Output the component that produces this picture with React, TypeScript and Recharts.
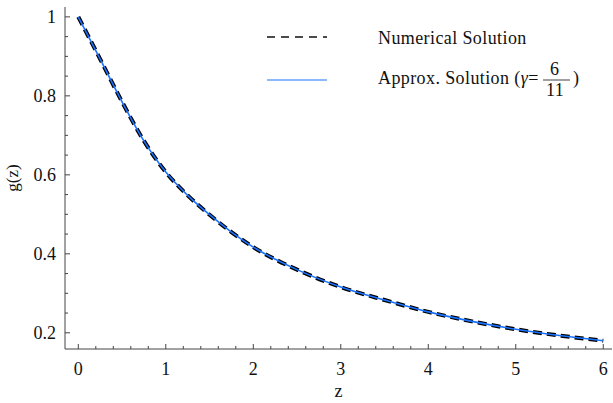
import React from 'react';
import { LineChart, Line, XAxis, YAxis } from 'recharts';

// z grid and the two solutions
const zValues = [0, 0.25, 0.5, 0.75, 1, 1.25, 1.5, 1.75, 2, 2.5, 3, 3.5, 4, 4.5, 5, 5.5, 6];
const numerical = [1.0, 0.893, 0.785, 0.686, 0.607, 0.548, 0.499, 0.455, 0.417, 0.36, 0.316, 0.283, 0.253, 0.229, 0.209, 0.193, 0.18];
const approx = [1.0, 0.893, 0.785, 0.686, 0.607, 0.548, 0.499, 0.455, 0.417, 0.36, 0.316, 0.283, 0.253, 0.229, 0.209, 0.193, 0.18];

const xTicks = [0, 0.2, 0.4, 0.6, 0.8, 1, 1.2, 1.4, 1.6, 1.8, 2, 2.2, 2.4, 2.6, 2.8, 3, 3.2, 3.4, 3.6, 3.8, 4, 4.2, 4.4, 4.6, 4.8, 5, 5.2, 5.4, 5.6, 5.8, 6];
const xLabels = [0, 1, 2, 3, 4, 5, 6];
const yTicks = [0.2, 0.25, 0.3, 0.35, 0.4, 0.45, 0.5, 0.55, 0.6, 0.65, 0.7, 0.75, 0.8, 0.85, 0.9, 0.95, 1];
const yLabels = [0.2, 0.4, 0.6, 0.8, 1];

const data = zValues.map((z, i) => ({ z, num: numerical[i], app: approx[i] }));

const AXIS = '#444';
const BLUE = '#1a72ff';
const FONT = '"Liberation Serif", "Times New Roman", serif';

const isMajor = (v: number, list: number[]) => list.some((l) => Math.abs(l - v) < 1e-6);

const BottomTick = (props: any) => {
  const { x, y, payload } = props;
  const major = isMajor(payload.value, xLabels);
  return (
    <g>
      <line x1={x} x2={x} y1={y} y2={y - (major ? 5 : 3)} stroke={AXIS} />
      {major && (
        <text x={x} y={y + 26} textAnchor="middle" fontSize={18} fontFamily={FONT} fill="#111">
          {payload.value}
        </text>
      )}
    </g>
  );
};

const TopTick = (props: any) => {
  const { x, y, payload } = props;
  const major = isMajor(payload.value, xLabels);
  return <line x1={x} x2={x} y1={y} y2={y + (major ? 5 : 3)} stroke={AXIS} />;
};

const LeftTick = (props: any) => {
  const { x, y, payload } = props;
  const major = isMajor(payload.value, yLabels);
  return (
    <g>
      <line x1={x} x2={x + (major ? 5 : 3)} y1={y} y2={y} stroke={AXIS} />
      {major && (
        <text x={x - 9} y={y + 6} textAnchor="end" fontSize={18} fontFamily={FONT} fill="#111">
          {payload.value}
        </text>
      )}
    </g>
  );
};

const RightTick = (props: any) => {
  const { x, y, payload } = props;
  const major = isMajor(payload.value, yLabels);
  return <line x1={x} x2={x - (major ? 5 : 3)} y1={y} y2={y} stroke={AXIS} />;
};

const textStyle = { fontSize: 18, fontFamily: FONT, fill: '#111', letterSpacing: 0.4 };

const LegendBox = () => (
  <svg width={363} height={100} style={{ display: 'block' }}>
    <line x1={17} x2={77} y1={37} y2={37} stroke="#111" strokeWidth={1.3} strokeDasharray="8 6" />
    <text x={128} y={44} style={textStyle}>Numerical Solution</text>
    <line x1={17} x2={77} y1={80} y2={80} stroke={BLUE} strokeWidth={1.1} />
    <text x={128} y={84} style={textStyle}>
      Approx. Solution (<tspan fontStyle="italic">γ</tspan>=
    </text>
    <text x={300} y={75} style={textStyle}>6</text>
    <line x1={293} x2={320} y1={80} y2={80} stroke="#111" strokeWidth={0.8} />
    <text x={296} y={96} style={textStyle}>11</text>
    <text x={323} y={84} style={textStyle}>)</text>
  </svg>
);

export default function App() {
  return (
    <div style={{ position: 'absolute', left: 0, top: 0, width: 613, height: 403, background: '#fff' }}>
      <LineChart width={613} height={403} data={data} margin={{ top: 7, right: 1, left: 0, bottom: 0 }}>
        <XAxis
          dataKey="z"
          type="number"
          domain={[-0.152, 6.1]}
          ticks={xTicks}
          interval={0}
          allowDataOverflow
          height={54}
          tickSize={0}
          tickMargin={0}
          stroke={AXIS}
          tick={<BottomTick />}
          label={{ value: 'z', position: 'insideBottom', offset: 6, fontSize: 18, fontFamily: FONT, fill: '#111' }}
        />
        <XAxis
          xAxisId="top"
          dataKey="z"
          type="number"
          orientation="top"
          domain={[-0.152, 6.1]}
          ticks={xTicks}
          interval={0}
          allowDataOverflow
          height={0}
          tickSize={0}
          tickMargin={0}
          stroke={AXIS}
          tick={<TopTick />}
        />
        <YAxis
          type="number"
          domain={[0.159, 1.025]}
          ticks={yTicks}
          interval={0}
          allowDataOverflow
          width={65}
          tickSize={0}
          tickMargin={0}
          stroke={AXIS}
          tick={<LeftTick />}
          label={{ value: 'g(z)', angle: -90, position: 'insideLeft', offset: 12, fontSize: 17, fontFamily: FONT, fill: '#111', style: { textAnchor: 'middle' } }}
        />
        <YAxis
          yAxisId="right"
          orientation="right"
          type="number"
          domain={[0.159, 1.025]}
          ticks={yTicks}
          interval={0}
          allowDataOverflow
          width={0}
          tickSize={0}
          tickMargin={0}
          stroke={AXIS}
          tick={<RightTick />}
        />
        <Line
          dataKey="num"
          type="monotone"
          stroke="#000"
          strokeWidth={4}
          strokeDasharray="9 5"
          dot={false}
          isAnimationActive={false}
        />
        <Line
          dataKey="app"
          type="monotone"
          stroke={BLUE}
          strokeWidth={1.6}
          dot={false}
          isAnimationActive={false}
        />
      </LineChart>
      <div style={{ position: 'absolute', left: 250, top: 0 }}>
        <LegendBox />
      </div>
    </div>
  );
}
